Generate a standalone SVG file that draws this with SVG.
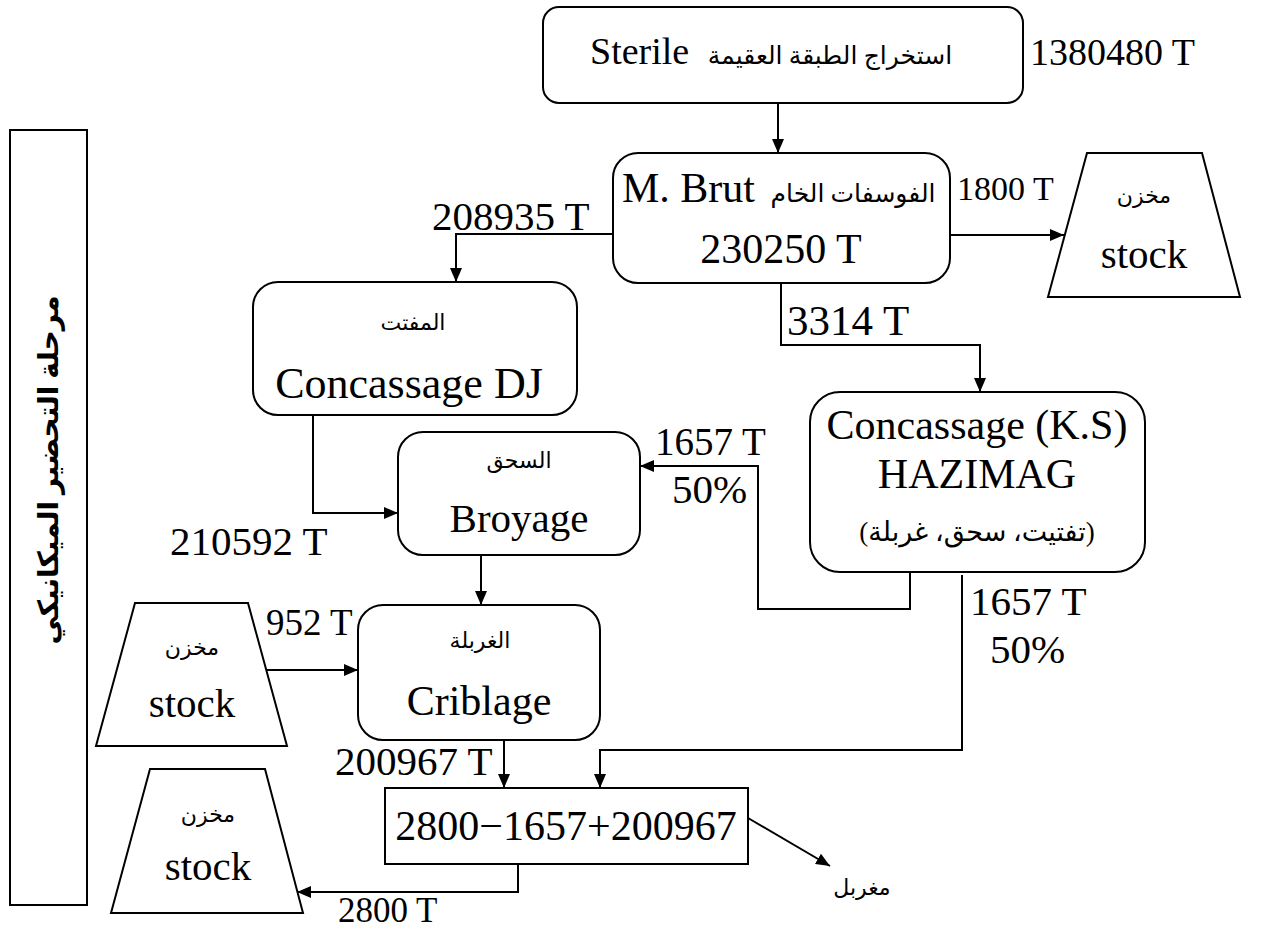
<svg xmlns="http://www.w3.org/2000/svg" width="1275" height="929" viewBox="0 0 1275 929">
<style>
.box{fill:#fff;stroke:#000;stroke-width:2}
.t{font-family:"Liberation Serif","Times New Roman",serif;font-size:41px;fill:#000}
.ar{font-family:"Liberation Serif","DejaVu Sans",serif;font-size:22px;fill:#000;direction:rtl;unicode-bidi:embed}
.arb{font-family:"Liberation Serif","DejaVu Sans",serif;font-size:28px;font-weight:bold;fill:#000;direction:rtl;unicode-bidi:embed}
.m{text-anchor:middle}
.c{stroke:#000;stroke-width:2;fill:none}
</style>
<defs>
<marker id="ah" viewBox="0 0 14 12" markerWidth="14" markerHeight="12" refX="14" refY="6" orient="auto" markerUnits="userSpaceOnUse"><path d="M0,0 L14,6 L0,12 z" fill="#000"/></marker>
</defs>
<g id="connectors">
<path class="c" d="M778,103 V153" marker-end="url(#ah)"/>
<path class="c" d="M613,234 H456 V282" marker-end="url(#ah)"/>
<path class="c" d="M950,235 H1064" marker-end="url(#ah)"/>
<path class="c" d="M781,283 V345 H980 V392" marker-end="url(#ah)"/>
<path class="c" d="M313,415 V513 H398" marker-end="url(#ah)"/>
<path class="c" d="M910,572 V609 H758 V466 H640" marker-end="url(#ah)"/>
<path class="c" d="M962,575 V750 H600 V788" marker-end="url(#ah)"/>
<path class="c" d="M481,555 V605" marker-end="url(#ah)"/>
<path class="c" d="M266,670 H358" marker-end="url(#ah)"/>
<path class="c" d="M504,740 V788" marker-end="url(#ah)"/>
<path class="c" d="M518,864 V892 H297" marker-end="url(#ah)"/>
<path class="c" d="M748,818 L830,866" marker-end="url(#ah)"/>
</g>
<g id="labels">
<text class="t" x="1030" y="65" style="font-size:38px">1380480 T</text>
<text class="t" x="432" y="230">208935 T</text>
<text class="t" x="957" y="200" style="font-size:34px">1800 T</text>
<text class="t" x="787" y="335" style="font-size:43px">3314 T</text>
<text class="t" x="655" y="455" style="font-size:39px">1657 T</text>
<text class="t" x="672" y="503">50%</text>
<text class="t" x="170" y="555">210592 T</text>
<text class="t" x="970" y="615">1657 T</text>
<text class="t" x="990" y="663">50%</text>
<text class="t" x="266" y="635" style="font-size:37px">952 T</text>
<text class="t" x="335" y="775">200967 T</text>
<text class="t" x="338" y="922" style="font-size:35px">2800 T</text>
<text class="ar m" x="862" y="895">مغربل</text>
</g>
<g id="side-label">
<rect class="box" x="10" y="130" width="77" height="775"/>
<text class="arb m" transform="translate(58,470) rotate(-90)">مرحلة التحضير الميكانيكي</text>
</g>
<g id="sterile">
<rect class="box" x="543" y="7" width="480" height="96" rx="16"/>
<text class="t" x="590" y="64" style="font-size:38px">Sterile</text>
<text class="ar m" x="830" y="64" style="font-size:25px">استخراج الطبقة العقيمة</text>
</g>
<g id="brut">
<rect class="box" x="613" y="153" width="337" height="130" rx="25"/>
<text class="t" x="622" y="202" style="font-size:42px">M. Brut</text>
<text class="ar m" x="853" y="202" style="font-size:25px">الفوسفات الخام</text>
<text class="t m" x="781" y="263" style="font-size:42px">230250 T</text>
</g>
<g id="stock1">
<polygon class="box" points="1087,153 1202,153 1240,297 1048,297"/>
<text class="ar m" x="1144" y="203">مخزن</text>
<text class="t m" x="1144" y="268">stock</text>
</g>
<g id="concassage-dj">
<rect class="box" x="253" y="282" width="324" height="133" rx="25"/>
<text class="ar m" x="413" y="330">المفتت</text>
<text class="t m" x="409" y="398" style="font-size:44px">Concassage DJ</text>
</g>
<g id="concassage-ks">
<rect class="box" x="810" y="392" width="335" height="180" rx="30"/>
<text class="t m" x="977" y="439" style="font-size:42px">Concassage (K.S)</text>
<text class="t m" x="977" y="488" style="font-size:42px">HAZIMAG</text>
<text class="ar m" x="977" y="541" style="font-size:27px">(تفتيت، سحق، غربلة)</text>
</g>
<g id="broyage">
<rect class="box" x="398" y="432" width="242" height="123" rx="25"/>
<text class="ar m" x="519" y="468">السحق</text>
<text class="t m" x="519" y="532">Broyage</text>
</g>
<g id="criblage">
<rect class="box" x="358" y="605" width="242" height="135" rx="25"/>
<text class="ar m" x="480" y="648">الغربلة</text>
<text class="t m" x="479" y="715" style="font-size:42px">Criblage</text>
</g>
<g id="stock2">
<polygon class="box" points="135,603 248,603 287,746 96,746"/>
<text class="ar m" x="192" y="655">مخزن</text>
<text class="t m" x="192" y="717">stock</text>
</g>
<g id="result">
<rect class="box" x="385" y="788" width="363" height="76"/>
<text class="t m" x="566" y="840" style="font-size:42px">2800−1657+200967</text>
</g>
<g id="stock3">
<polygon class="box" points="150,769 265,769 303,913 111,913"/>
<text class="ar m" x="208" y="822">مخزن</text>
<text class="t m" x="208" y="880">stock</text>
</g>
</svg>
